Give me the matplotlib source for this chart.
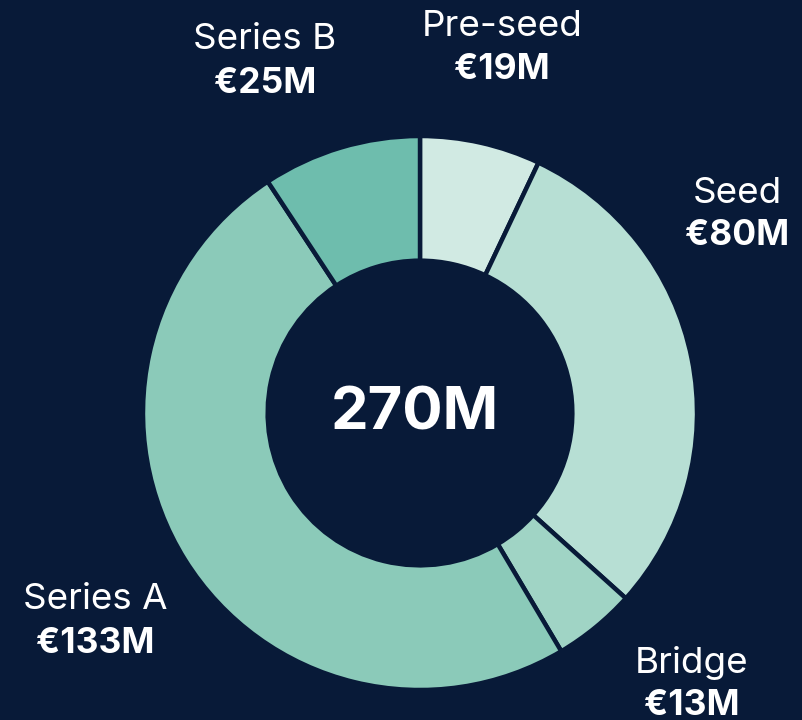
import matplotlib
matplotlib.use("Agg")
import matplotlib.pyplot as plt

# funding by round, clockwise from the top
rounds = ["Pre-seed", "Seed", "Bridge", "Series A", "Series B"]
amounts = [19, 80, 13, 133, 25]
value_labels = ["€19M", "€80M", "€13M", "€133M", "€25M"]
total_label = "270M"

colors = ["#D1EAE3", "#B7DFD4", "#A0D4C5", "#8BCAB9", "#6EBDAD"]
bg = "#081A38"

# label anchor (pixel x, name baseline y, value baseline y)
label_px = [(502, 36, 79), (737, 203, 245), (692, 673, 715),
            (95, 609, 653), (265, 49, 93)]

W, H = 802, 720
cx, cy, R = 420, 413, 277

plt.rcParams["font.family"] = ["Inter", "DejaVu Sans"]

fig = plt.figure(figsize=(W / 100, H / 100), dpi=100, facecolor=bg)
ax = fig.add_axes([0, 0, 1, 1])
ax.set_facecolor(bg)

ax.pie(amounts, colors=colors, startangle=90, counterclock=False,
       radius=1.0,
       wedgeprops=dict(width=0.45, edgecolor=bg, linewidth=3.2))
ax.set_xlim(-cx / R, (W - cx) / R)
ax.set_ylim(-(H - cy) / R, cy / R)
ax.set_aspect("auto")
ax.axis("off")

for name, val, (px, yn, yv) in zip(rounds, value_labels, label_px):
    fig.text(px / W, 1 - yn / H, name, color="white", fontsize=26.5,
             ha="center", va="baseline")
    fig.text(px / W, 1 - yv / H, val, color="white", fontsize=25.5,
             fontweight="bold", ha="center", va="baseline")

fig.text(415 / W, 1 - 430 / H, total_label, color="white", fontsize=43,
         fontweight="bold", ha="center", va="baseline")

fig.savefig("out.png", dpi=100, facecolor=bg)
